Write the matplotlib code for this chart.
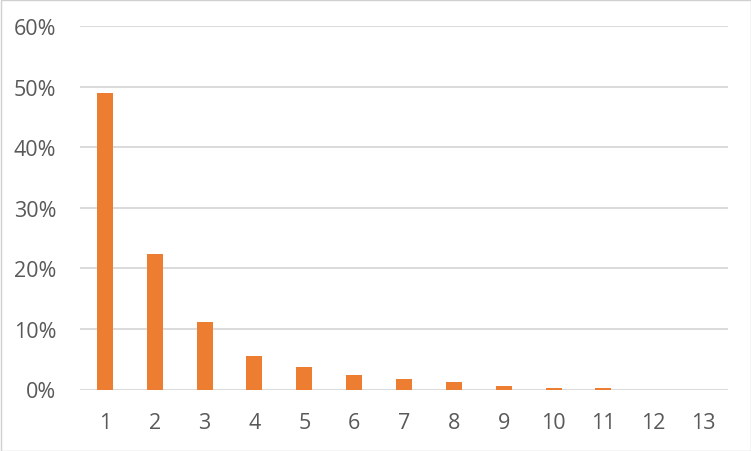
import matplotlib
matplotlib.use("Agg")
import matplotlib.pyplot as plt
from matplotlib.ticker import PercentFormatter
from matplotlib.patches import Rectangle

categories = [str(i) for i in range(1, 14)]
values = [48.9, 22.3, 11.1, 5.6, 3.7, 2.4, 1.7, 1.2, 0.6, 0.25, 0.25, 0.0, 0.0]
yticks = [0, 10, 20, 30, 40, 50, 60]

plt.rcParams['font.family'] = ['Open Sans', 'DejaVu Sans']

fig = plt.figure(figsize=(7.51, 4.52), dpi=100)
ax = fig.add_axes([80/751, 1 - 390.5/452, 648/751, (390.5-27)/452])

x = list(range(len(categories)))
ax.bar(x, values, width=0.32, color='#ED7D31', zorder=3)
ax.set_xlim(-0.5, len(categories) - 0.5)
ax.set_ylim(0, 60)
ax.set_yticks(yticks)
ax.yaxis.set_major_formatter(PercentFormatter(decimals=0))
ax.set_xticks(x)
ax.set_xticklabels(categories)
ax.grid(axis='y', color='#d4d4d4', linewidth=1.2, zorder=0)
for s in ax.spines.values():
    s.set_visible(False)
ax.tick_params(length=0, labelsize=15.5, colors='#595959')
ax.tick_params(axis='x', pad=16)
ax.tick_params(axis='y', pad=17)

fig.patches.append(Rectangle((0.5/751, 0.5/452), 1 - 1/751, 1 - 1/452,
                             transform=fig.transFigure, fill=False,
                             edgecolor='#d0d0d0', linewidth=1.0))
fig.savefig('out.png', dpi=100)
